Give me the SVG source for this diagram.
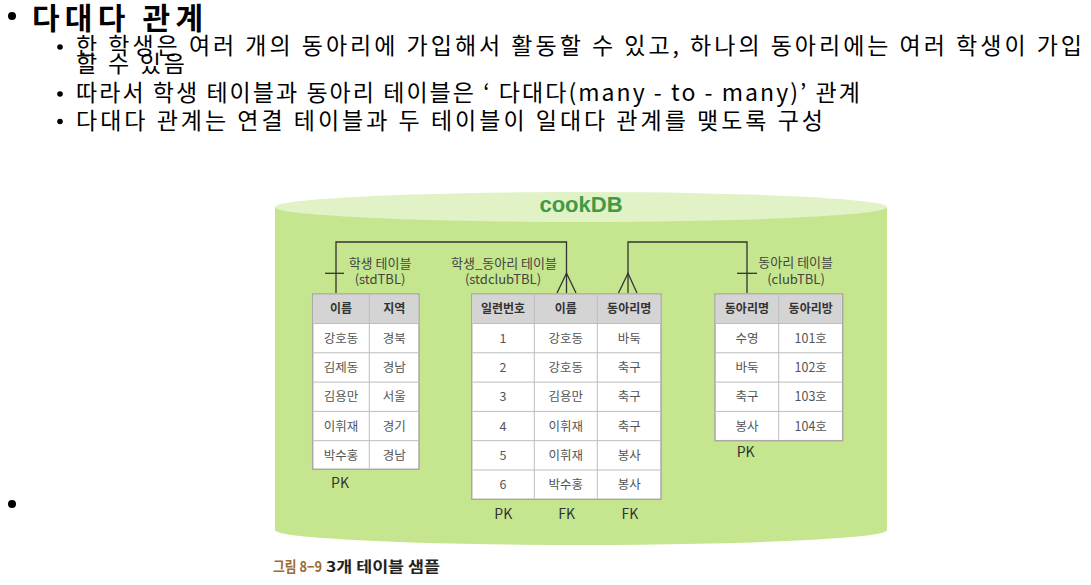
<svg xmlns="http://www.w3.org/2000/svg" width="1091" height="585" viewBox="0 0 1091 585">
<style>
text{font-family:'Noto Sans CJK KR','Noto Sans',sans-serif}
.h1{font-size:30px;font-weight:700;fill:#000}
.b{font-size:23px;fill:#000}
.lbl{font-size:13px;fill:#444;text-anchor:middle}
.th{font-size:12px;font-weight:700;fill:#333;text-anchor:middle}
.td{font-size:12.5px;fill:#555;text-anchor:middle}
.key{font-size:14px;fill:#333;text-anchor:middle}
.tbl{fill:#fff;stroke:#a8a8a8;stroke-width:1.5}
.hdr{fill:#d4d4d4}
.grid{stroke:#bdbdbd;stroke-width:1;fill:none}
.conn{stroke:#333;stroke-width:1.3;fill:none}
</style>
<g id="text-block">
<circle cx="12" cy="16" r="4" fill="#000"/>
<text class="h1" x="32" y="29" textLength="171" lengthAdjust="spacing">다대다 관계</text>
<circle cx="60" cy="47" r="2.8" fill="#000"/>
<text class="b" x="76" y="54" textLength="1006" lengthAdjust="spacing">한 학생은 여러 개의 동아리에 가입해서 활동할 수 있고, 하나의 동아리에는 여러 학생이 가입</text>
<text class="b" x="76" y="71.5" textLength="109" lengthAdjust="spacing">할 수 있음</text>
<circle cx="60" cy="94" r="2.8" fill="#000"/>
<text class="b" x="76" y="101" textLength="784" lengthAdjust="spacing">따라서 학생 테이블과 동아리 테이블은 ‘ 다대다(many - to - many)’ 관계</text>
<circle cx="60" cy="121.5" r="2.8" fill="#000"/>
<text class="b" x="76" y="128.5" textLength="747" lengthAdjust="spacing">다대다 관계는 연결 테이블과 두 테이블이 일대다 관계를 맺도록 구성</text>
<circle cx="12" cy="504" r="4" fill="#000"/>
</g>
<g id="cookDB">
<path d="M275,207 V530 A306,15 0 0 0 887,530 V207 Z" fill="#c5e68e"/>
<ellipse cx="581" cy="207" rx="306" ry="15" fill="#e1f2c6"/>
<text x="581" y="212" text-anchor="middle" style="font-family:'Liberation Sans',Arial,sans-serif;font-size:22px;font-weight:700;fill:#3e9a45">cookDB</text>
</g>
<g id="connectors">
<path class="conn" d="M336,293 V242 H566.5 V293"/>
<path class="conn" d="M325,273.3 H344"/>
<path class="conn" d="M557,293 L566.5,273.3 L576,293"/>
<path class="conn" d="M628,293 V242 H747 V293"/>
<path class="conn" d="M737,273.3 H757"/>
<path class="conn" d="M618.5,293 L628,273.3 L637,293"/>
</g>
<g id="stdTBL">
<text class="lbl" x="380" y="267.5">학생 테이블</text>
<text class="lbl" x="380" y="284">(stdTBL)</text>
<rect class="tbl" x="312.7" y="294" width="106.3" height="175.3"/>
<rect class="hdr" x="313.5" y="294.8" width="104.7" height="28.7"/>
<path class="grid" d="M369.3,294.8 V468.5 M313.5,323.5 H418.2 M313.5,352.8 H418.2 M313.5,382.1 H418.2 M313.5,411.4 H418.2 M313.5,440.7 H418.2"/>
<text class="th" x="341" y="313">이름</text><text class="th" x="394.2" y="313">지역</text>
<text class="td" x="341" y="342.6">강호동</text><text class="td" x="394.2" y="342.6">경북</text>
<text class="td" x="341" y="371.9">김제동</text><text class="td" x="394.2" y="371.9">경남</text>
<text class="td" x="341" y="401.2">김용만</text><text class="td" x="394.2" y="401.2">서울</text>
<text class="td" x="341" y="430.5">이휘재</text><text class="td" x="394.2" y="430.5">경기</text>
<text class="td" x="341" y="459.8">박수홍</text><text class="td" x="394.2" y="459.8">경남</text>
<text class="key" x="340" y="488">PK</text>
</g>
<g id="stdclubTBL">
<text class="lbl" x="504" y="267.5">학생_동아리 테이블</text>
<text class="lbl" x="503" y="284">(stdclubTBL)</text>
<rect class="tbl" x="471.7" y="294" width="189.3" height="205.3"/>
<rect class="hdr" x="472.5" y="294.8" width="187.7" height="28.7"/>
<path class="grid" d="M534.3,294.8 V498.5 M597.3,294.8 V498.5 M472.5,323.5 H660.2 M472.5,352.8 H660.2 M472.5,382.1 H660.2 M472.5,411.4 H660.2 M472.5,440.7 H660.2 M472.5,470 H660.2"/>
<text class="th" x="503" y="313">일련번호</text><text class="th" x="565.8" y="313">이름</text><text class="th" x="629.2" y="313">동아리명</text>
<text class="td" x="503" y="342.6">1</text><text class="td" x="565.8" y="342.6">강호동</text><text class="td" x="629.2" y="342.6">바둑</text>
<text class="td" x="503" y="371.9">2</text><text class="td" x="565.8" y="371.9">강호동</text><text class="td" x="629.2" y="371.9">축구</text>
<text class="td" x="503" y="401.2">3</text><text class="td" x="565.8" y="401.2">김용만</text><text class="td" x="629.2" y="401.2">축구</text>
<text class="td" x="503" y="430.5">4</text><text class="td" x="565.8" y="430.5">이휘재</text><text class="td" x="629.2" y="430.5">축구</text>
<text class="td" x="503" y="459.8">5</text><text class="td" x="565.8" y="459.8">이휘재</text><text class="td" x="629.2" y="459.8">봉사</text>
<text class="td" x="503" y="489.1">6</text><text class="td" x="565.8" y="489.1">박수홍</text><text class="td" x="629.2" y="489.1">봉사</text>
<text class="key" x="503.3" y="518.5">PK</text><text class="key" x="566.7" y="518.5">FK</text><text class="key" x="630" y="518.5">FK</text>
</g>
<g id="clubTBL">
<text class="lbl" x="795.7" y="267">동아리 테이블</text>
<text class="lbl" x="796" y="284">(clubTBL)</text>
<rect class="tbl" x="715" y="294" width="127.7" height="146.7"/>
<rect class="hdr" x="715.8" y="294.8" width="126.1" height="28.7"/>
<path class="grid" d="M778.7,294.8 V439.9 M715.8,323.5 H841.9 M715.8,352.8 H841.9 M715.8,382.1 H841.9 M715.8,411.4 H841.9"/>
<text class="th" x="746.9" y="313">동아리명</text><text class="th" x="810.7" y="313">동아리방</text>
<text class="td" x="746.9" y="342.6">수영</text><text class="td" x="810.7" y="342.6">101호</text>
<text class="td" x="746.9" y="371.9">바둑</text><text class="td" x="810.7" y="371.9">102호</text>
<text class="td" x="746.9" y="401.2">축구</text><text class="td" x="810.7" y="401.2">103호</text>
<text class="td" x="746.9" y="430.5">봉사</text><text class="td" x="810.7" y="430.5">104호</text>
<text class="key" x="745.7" y="457">PK</text>
</g>
<g id="caption">
<text x="273" y="571.5" style="font-size:14.5px;font-weight:700"><tspan fill="#9c6a32" textLength="49" lengthAdjust="spacingAndGlyphs">그림 8−9</tspan><tspan fill="#222" x="326" textLength="114" lengthAdjust="spacingAndGlyphs">3개 테이블 샘플</tspan></text>
</g>
</svg>
